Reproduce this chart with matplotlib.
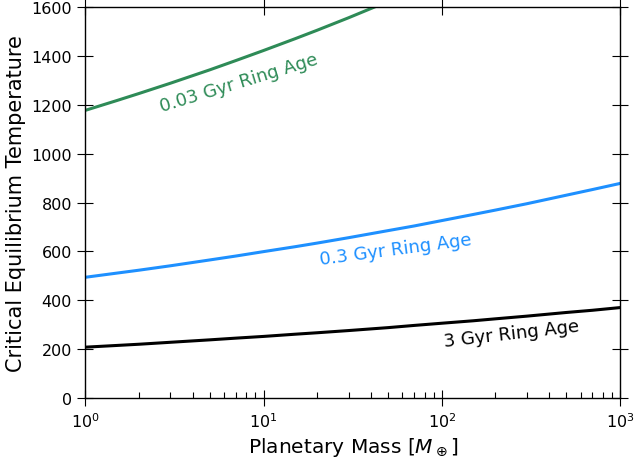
import numpy as np
import matplotlib
matplotlib.use("Agg")
import matplotlib.pyplot as plt

# values (planetary mass in Earth masses)
mass = [1, 1.5, 2, 3, 5, 7, 10, 15, 20, 30, 50, 70, 100, 150, 200, 300, 500, 700, 1000]
temp_003 = [1177, 1217, 1246, 1288, 1343, 1381, 1422, 1470, 1505, 1556, 1623, 1668, 1715,
            1770, 1810, 1870, 1950, 2000, 2060]
temp_03 = [494, 511, 523, 541, 565, 581, 599, 619, 634, 656, 685, 704, 726,
           751, 769, 795, 830, 853, 878]
temp_3 = [208, 215, 220, 228, 238, 245, 252, 261, 267, 276, 288, 297, 306,
          316, 324, 335, 350, 359, 370]

labels = ["0.03 Gyr Ring Age", "0.3 Gyr Ring Age", "3 Gyr Ring Age"]
colors = ["seagreen", "dodgerblue", "black"]

fig = plt.figure(figsize=(6.34, 4.6), dpi=100)
ax = fig.add_axes([0.1345, 0.1326, 0.8435, 0.85])

ax.plot(mass, temp_003, color=colors[0], lw=2.2)
ax.plot(mass, temp_03, color=colors[1], lw=2.2)
ax.plot(mass, temp_3, color=colors[2], lw=2.2)

ax.set_xscale("log")
ax.set_xlim(1, 1000)
ax.set_ylim(0, 1600)

# curve labels
ax.text(7.3, 1290, labels[0], color=colors[0], fontsize=13, rotation=17,
        ha="center", va="center")
ax.text(55, 608, labels[1], color=colors[1], fontsize=13, rotation=7.5,
        ha="center", va="center")
ax.text(247, 263, labels[2], color=colors[2], fontsize=13, rotation=6.5,
        ha="center", va="center")

ax.set_xlabel(r"Planetary Mass [$M_\oplus$]", fontsize=14.5)
ax.set_ylabel("Critical Equilibrium Temperature", fontsize=15)

ax.tick_params(which="major", direction="inout", length=12, width=0.8,
               labelsize=11.5, top=True, right=True)
ax.tick_params(which="minor", direction="in", length=4, width=0.8,
               top=False, right=False)
for s in ax.spines.values():
    s.set_linewidth(1.0)

fig.savefig("out.png", dpi=100)
